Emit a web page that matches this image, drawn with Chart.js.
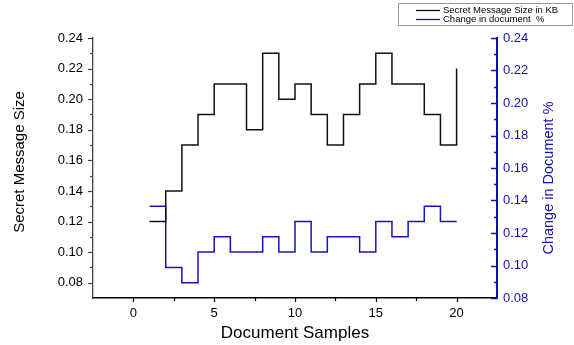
<!DOCTYPE html>
<html>
<head>
<meta charset="utf-8">
<script src="https://cdn.jsdelivr.net/npm/chart.js@4.4.1/dist/chart.umd.min.js"></script>
<style>
  html, body { margin: 0; padding: 0; background: #fff; }
</style>
</head>
<body>
<canvas id="chart" width="574" height="345"></canvas>
<script>
// values
const samples = [1, 2, 3, 4, 5, 6, 7, 8, 9, 10, 11, 12, 13, 14, 15, 16, 17, 18, 19, 20]
const messageSize = [0.12, 0.14, 0.17, 0.19, 0.21, 0.21, 0.18, 0.23, 0.20, 0.21,
                     0.19, 0.17, 0.19, 0.21, 0.23, 0.21, 0.21, 0.19, 0.17, 0.22]
const docChange = [0.13, 0.09, 0.08, 0.10, 0.11, 0.10, 0.10, 0.11, 0.10, 0.12,
                   0.10, 0.11, 0.11, 0.10, 0.12, 0.11, 0.12, 0.13, 0.12, 0.12]
const xTicks = [0, 5, 10, 15, 20]
const leftTicks = [0.08, 0.10, 0.12, 0.14, 0.16, 0.18, 0.20, 0.22, 0.24]
const rightTicks = [0.08, 0.10, 0.12, 0.14, 0.16, 0.18, 0.20, 0.22, 0.24]

const FONT = "'Liberation Sans', Arial, sans-serif"
const BLUE = '#1414c4'
const AXIS_BLUE = '#1010b0'

// minor ticks sit halfway between the major ones
const halves = arr => arr.slice(1).map((v, i) => (v + arr[i]) / 2)

const axisDecor = {
  id: 'axisDecor',
  afterDraw(chart) {
    const { ctx, chartArea: a, scales } = chart
    ctx.save()

    // bottom axis ticks (downwards)
    ctx.strokeStyle = '#000'
    ctx.lineWidth = 1.2
    const xs = scales.x
    xTicks.forEach(v => {
      const px = Math.round(xs.getPixelForValue(v)) + 0.5
      ctx.beginPath(); ctx.moveTo(px, a.bottom); ctx.lineTo(px, a.bottom + 4); ctx.stroke()
    })
    halves(xTicks).forEach(v => {
      const px = Math.round(xs.getPixelForValue(v)) + 0.5
      ctx.beginPath(); ctx.moveTo(px, a.bottom); ctx.lineTo(px, a.bottom + 3); ctx.stroke()
    })

    // left axis ticks (outwards)
    ctx.strokeStyle = '#444'
    const yl = scales.y
    leftTicks.forEach(v => {
      const py = Math.round(yl.getPixelForValue(v)) + 0.5
      ctx.beginPath(); ctx.moveTo(a.left, py); ctx.lineTo(a.left - 5, py); ctx.stroke()
    })
    halves(leftTicks).forEach(v => {
      const py = Math.round(yl.getPixelForValue(v)) + 0.5
      ctx.beginPath(); ctx.moveTo(a.left, py); ctx.lineTo(a.left - 3, py); ctx.stroke()
    })

    // right axis ticks (pointing into the plot)
    ctx.strokeStyle = AXIS_BLUE
    ctx.lineWidth = 1.5
    const yr = scales.y2
    rightTicks.forEach(v => {
      const py = Math.round(yr.getPixelForValue(v)) + 0.5
      ctx.beginPath(); ctx.moveTo(a.right, py); ctx.lineTo(a.right - 6, py); ctx.stroke()
    })
    halves(rightTicks).forEach(v => {
      const py = Math.round(yr.getPixelForValue(v)) + 0.5
      ctx.beginPath(); ctx.moveTo(a.right, py); ctx.lineTo(a.right - 3, py); ctx.stroke()
    })

    // y axis titles, both read bottom to top
    ctx.textAlign = 'center'
    ctx.textBaseline = 'middle'
    ctx.font = '15px ' + FONT
    ctx.fillStyle = '#000'
    ctx.save(); ctx.translate(20, 162); ctx.rotate(-Math.PI / 2)
    ctx.fillText('Secret Message Size', 0, 0); ctx.restore()
    ctx.font = '14.5px ' + FONT
    ctx.fillStyle = AXIS_BLUE
    ctx.save(); ctx.translate(549, 178); ctx.rotate(-Math.PI / 2)
    ctx.fillText('Change in Document %', 0, 0); ctx.restore()

    // boxed legend in the top right corner
    ctx.strokeStyle = '#999'
    ctx.lineWidth = 1
    ctx.strokeRect(398.5, 3.5, 174, 22)
    ctx.font = '9.5px ' + FONT
    ctx.textAlign = 'left'
    ctx.fillStyle = '#000'
    chart.data.datasets.forEach((ds, i) => {
      const y = 10 + i * 9
      ctx.strokeStyle = ds.borderColor
      ctx.lineWidth = 1.3
      ctx.beginPath(); ctx.moveTo(416, y + 0.5); ctx.lineTo(440, y + 0.5); ctx.stroke()
      ctx.fillText(ds.label, 443, y + 0.5)
    })
    ctx.restore()
  }
}

new Chart(document.getElementById('chart'), {
  type: 'line',
  data: {
    datasets: [{
      label: 'Secret Message Size in KB',
      data: samples.map((s, i) => ({ x: s, y: messageSize[i] })),
      borderColor: '#111',
      borderWidth: 1.5,
      stepped: true,
      pointRadius: 0,
      yAxisID: 'y'
    }, {
      label: 'Change in document  %',
      data: samples.map((s, i) => ({ x: s, y: docChange[i] })),
      borderColor: BLUE,
      borderWidth: 1.5,
      stepped: true,
      pointRadius: 0,
      yAxisID: 'y'
    }]
  },
  options: {
    responsive: false,
    animation: false,
    layout: { padding: { top: 38, left: 0, right: 0, bottom: 0 } },
    plugins: {
      legend: { display: false },
      tooltip: { enabled: false }
    },
    scales: {
      x: {
        type: 'linear',
        min: -2.5,
        max: 22.5,
        afterBuildTicks: s => { s.ticks = xTicks.map(v => ({ value: v })) },
        afterFit: s => { s.height = 47 },
        grid: { display: false, drawTicks: false },
        border: { display: true, color: '#000', width: 1.5 },
        ticks: { padding: 8, color: '#000', font: { family: FONT, size: 13 } },
        title: {
          display: true,
          text: 'Document Samples',
          color: '#000',
          font: { family: FONT, size: 17 },
          padding: { top: 0, bottom: 1 }
        }
      },
      y: {
        position: 'left',
        min: 0.07,
        max: 0.24,
        afterBuildTicks: s => { s.ticks = leftTicks.map(v => ({ value: v })) },
        afterFit: s => { s.width = 93 },
        grid: { display: false, drawTicks: false },
        border: { display: true, color: '#444', width: 1.3 },
        ticks: {
          padding: 10,
          color: '#000',
          font: { family: FONT, size: 13 },
          callback: v => v.toFixed(2)
        }
      },
      y2: {
        position: 'right',
        min: 0.08,
        max: 0.24,
        afterBuildTicks: s => { s.ticks = rightTicks.map(v => ({ value: v })) },
        afterFit: s => { s.width = 77 },
        grid: { display: false, drawTicks: false },
        border: { display: true, color: AXIS_BLUE, width: 2 },
        ticks: {
          padding: 6,
          color: AXIS_BLUE,
          font: { family: FONT, size: 13 },
          callback: v => v.toFixed(2)
        }
      }
    }
  },
  plugins: [axisDecor]
})
</script>
</body>
</html>
